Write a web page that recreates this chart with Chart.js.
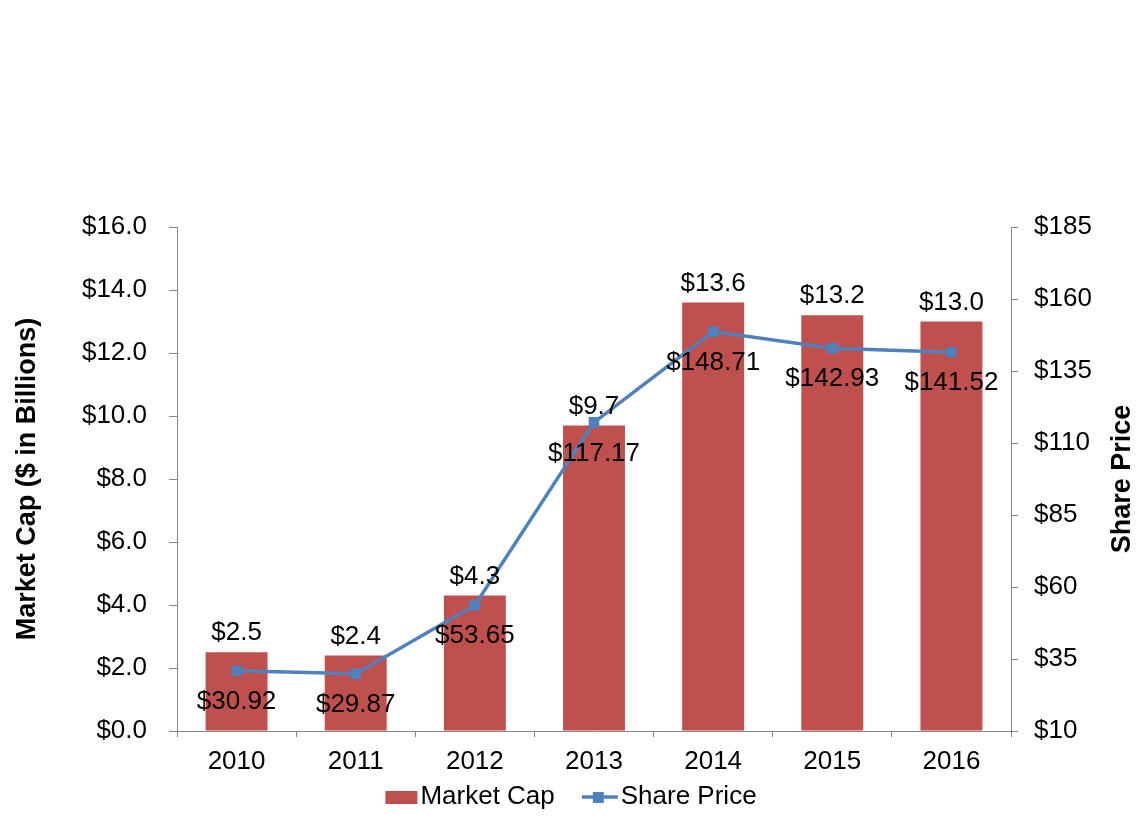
<!DOCTYPE html>
<html>
<head>
<meta charset="utf-8">
<script src="https://cdn.jsdelivr.net/npm/chart.js@4.4.1/dist/chart.umd.min.js"></script>
<style>
  html, body { margin: 0; padding: 0; background: #fff; }
</style>
</head>
<body>
<canvas id="capChart" width="1138" height="825"></canvas>
<script>
const years = ['2010', '2011', '2012', '2013', '2014', '2015', '2016'];
const marketCap = [2.5, 2.4, 4.3, 9.7, 13.6, 13.2, 13.0];
const sharePrice = [30.92, 29.87, 53.65, 117.17, 148.71, 142.93, 141.52];
const capTicks = [0, 2, 4, 6, 8, 10, 12, 14, 16];
const priceTicks = [10, 35, 60, 85, 110, 135, 160, 185];

const FONT = '"Liberation Sans", Arial, sans-serif';
const RED = '#C0504D';
const BLUE = '#4F81BD';
const AXIS = '#868686';

// legend swatches, drawn as small canvases (right-aligned so they sit close to the text)
function makeSwatch(kind) {
  const c = document.createElement('canvas');
  c.width = 68; c.height = 20;
  const g = c.getContext('2d');
  if (kind === 'bar') {
    g.fillStyle = RED;
    g.fillRect(34, 4, 32, 13);
  } else {
    g.strokeStyle = BLUE;
    g.lineWidth = 3.5;
    g.beginPath(); g.moveTo(30, 10); g.lineTo(66, 10); g.stroke();
    g.fillStyle = BLUE;
    g.fillRect(41, 5, 11, 11);
  }
  return c;
}
const swatches = [makeSwatch('bar'), makeSwatch('line')];

function drawTitle(ctx, text, x, y) {
  ctx.save();
  ctx.font = 'bold 27px ' + FONT;
  ctx.fillStyle = '#000';
  ctx.textAlign = 'center';
  ctx.textBaseline = 'middle';
  ctx.translate(x, y);
  ctx.rotate(-Math.PI / 2);
  ctx.fillText(text, 0, 0);
  ctx.restore();
}

const valueLabels = {
  id: 'valueLabels',
  afterDatasetsDraw(chart) {
    const ctx = chart.ctx;
    ctx.save();
    ctx.font = '26px ' + FONT;
    ctx.fillStyle = '#000';
    ctx.textAlign = 'center';
    ctx.textBaseline = 'middle';
    chart.getDatasetMeta(0).data.forEach((bar, i) => {
      ctx.fillText('$' + marketCap[i].toFixed(1), bar.x, bar.y - 19);
    });
    chart.getDatasetMeta(1).data.forEach((pt, i) => {
      ctx.fillText('$' + sharePrice[i].toFixed(2), pt.x, pt.y + 31);
    });
    ctx.restore();
    // both axis titles read bottom to top
    const mid = (chart.chartArea.top + chart.chartArea.bottom) / 2;
    drawTitle(ctx, 'Market Cap ($ in Billions)', 28, mid);
    drawTitle(ctx, 'Share Price', 1123, mid);
  }
};

const tickFont = { family: FONT, size: 26 };

new Chart(document.getElementById('capChart'), {
  data: {
    labels: years,
    datasets: [
      {
        type: 'bar',
        label: 'Market Cap',
        data: marketCap,
        backgroundColor: RED,
        yAxisID: 'y',
        order: 2,
        barPercentage: 0.52,
        categoryPercentage: 1
      },
      {
        type: 'line',
        label: 'Share Price',
        data: sharePrice,
        borderColor: BLUE,
        backgroundColor: BLUE,
        borderWidth: 3.5,
        pointStyle: 'rect',
        pointRadius: 7.5,
        pointBorderWidth: 0,
        tension: 0,
        yAxisID: 'y1',
        order: 1
      }
    ]
  },
  options: {
    responsive: false,
    animation: false,
    devicePixelRatio: 1,
    layout: { padding: { top: 227, left: 0, right: 18, bottom: 5 } },
    plugins: {
      tooltip: { enabled: false },
      legend: {
        position: 'bottom',
        labels: {
          font: tickFont,
          color: '#000',
          usePointStyle: true,
          pointStyleWidth: 44,
          padding: 9,
          sort: (a, b) => a.datasetIndex - b.datasetIndex,
          generateLabels(chart) {
            const items = Chart.defaults.plugins.legend.labels.generateLabels(chart);
            items.forEach(it => { it.pointStyle = swatches[it.datasetIndex]; it.rotation = 0; });
            return items;
          }
        }
      }
    },
    scales: {
      x: {
        offset: true,
        border: { color: AXIS, width: 1 },
        grid: { display: true, drawOnChartArea: false, drawTicks: true, tickLength: 6, color: AXIS, offset: true },
        ticks: { font: tickFont, color: '#000', padding: 9, maxRotation: 0 },
        afterFit: s => { s.height = 44; }
      },
      y: {
        position: 'left',
        min: capTicks[0],
        max: capTicks[capTicks.length - 1],
        border: { color: AXIS, width: 1 },
        grid: { display: true, drawOnChartArea: false, drawTicks: true, tickLength: 8, color: AXIS },
        ticks: {
          font: tickFont, color: '#000', padding: 22,
          stepSize: capTicks[1] - capTicks[0],
          callback: v => '$' + v.toFixed(1)
        },
        afterFit: s => { s.width = 177; }
      },
      y1: {
        position: 'right',
        min: priceTicks[0],
        max: priceTicks[priceTicks.length - 1],
        border: { color: AXIS, width: 1 },
        grid: { display: true, drawOnChartArea: false, drawTicks: true, tickLength: 7, color: AXIS },
        ticks: {
          font: tickFont, color: '#000', padding: 16,
          stepSize: priceTicks[1] - priceTicks[0],
          callback: v => '$' + v
        },
        afterFit: s => { s.width = 109; }
      }
    }
  },
  plugins: [valueLabels]
});
</script>
</body>
</html>
